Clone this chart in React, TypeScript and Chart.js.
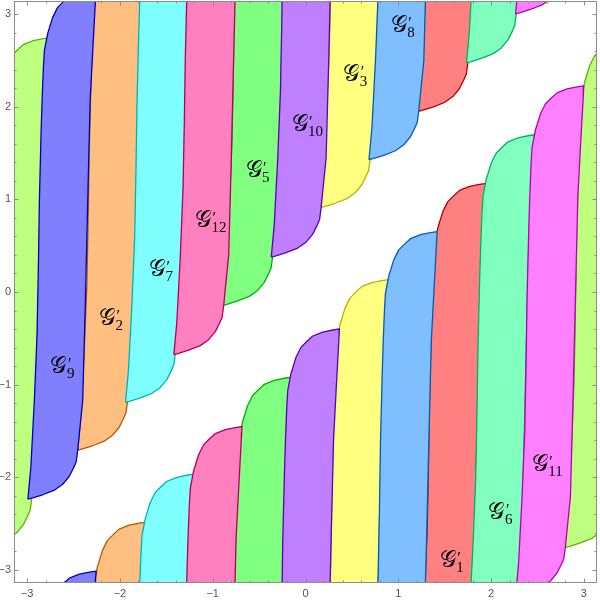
import React, { useEffect, useRef } from "react";
import { Chart, registerables } from "chart.js";

Chart.register(...registerables);

// ---- axes -------------------------------------------------------------
const AXIS_MIN = -Math.PI;
const AXIS_MAX = Math.PI;
const PERIOD = 2 * Math.PI;

const majorTicks = [-3, -2, -1, 0, 1, 2, 3];
const tickLabels = ["−3", "−2", "−1", "0", "1", "2", "3"];
const minorTicks = [
  -2.8, -2.6, -2.4, -2.2, -1.8, -1.6, -1.4, -1.2, -0.8, -0.6, -0.4, -0.2,
  0.2, 0.4, 0.6, 0.8, 1.2, 1.4, 1.6, 1.8, 2.2, 2.4, 2.6, 2.8,
];

// ---- outline of one strip (the G'9 strip) ------------------------------
// left edge upward, round top-left corner, top edge, then right edge
// downward, round bottom-right corner, bottom edge.
const stripX = [
  -2.992, -2.96, -2.922, -2.893, -2.879, -2.868, -2.85, -2.839, -2.825, -2.814,
  -2.779, -2.725, -2.671, -2.609, -2.545, -2.437, -2.329, -2.257, -2.261,
  -2.264, -2.293, -2.321, -2.347, -2.372, -2.401, -2.437, -2.455, -2.472,
  -2.502, -2.545, -2.617, -2.707, -2.833, -2.941,
];
const stripY = [
  -2.237, -1.892, -1.169, -0.447, 0.265, 0.988, 1.711, 2.067, 2.423, 2.606,
  2.79, 2.965, 3.073, 3.135, 3.194, 3.237, 3.259, 3.27, 3.2, 3.146, 2.606,
  2.067, 0.988, -0.091, -1.169, -1.525, -1.709, -1.835, -1.903, -1.989,
  -2.076, -2.14, -2.189, -2.223,
];

// strips from left to right: which G' they are and where they sit
const stripIndex = [4, 9, 2, 7, 12, 5, 10, 3, 8, 1, 6, 11];
const stripOffsetX = [
  -0.496, 0, 0.537, 1.052, 1.573, 2.101, 2.623, 3.152, 3.676, 4.205, 4.727,
  5.256,
];
const stripOffsetY = [
  -0.523, 0, 0.529, 1.046, 1.561, 2.093, 2.614, 3.147, 3.665, 4.186, 4.711,
  5.239,
];

// colours by G' index 1..12
const fillColors = [
  "#ff8080", "#ffbf80", "#ffff80", "#bfff80", "#80ff80", "#80ffbf",
  "#80ffff", "#80bfff", "#8080ff", "#bf80ff", "#ff80ff", "#ff80bf",
];
const edgeColors = [
  "#b30000", "#b35900", "#b3b300", "#5cb300", "#00b300", "#00b35c",
  "#00b3b3", "#005cb3", "#0000b3", "#5c00b3", "#b300b3", "#b3005c",
];

// ---- region labels -----------------------------------------------------
const labelIndex = [9, 2, 7, 12, 5, 10, 3, 8, 1, 6, 11];
const labelX = [
  -2.663, -2.14, -1.601, -1.105, -0.56, -0.064, 0.492, 1.004, 1.533, 2.058,
  2.525,
];
const labelY = [
  -0.813, -0.296, 0.233, 0.762, 1.301, 1.807, 2.347, 2.876, -2.907, -2.388,
  -1.871,
];

function buildDatasets() {
  const sets: any[] = [];
  const shifts = [-1, 0, 1];
  stripIndex.forEach((g, k) => {
    for (const sx of shifts) {
      for (const sy of shifts) {
        const pts = stripX.map((x, i) => ({
          x: x + stripOffsetX[k] + sx * PERIOD,
          y: stripY[i] + stripOffsetY[k] + sy * PERIOD,
        }));
        const minX = Math.min(...pts.map((p) => p.x));
        const maxX = Math.max(...pts.map((p) => p.x));
        const minY = Math.min(...pts.map((p) => p.y));
        const maxY = Math.max(...pts.map((p) => p.y));
        if (maxX < AXIS_MIN || minX > AXIS_MAX || maxY < AXIS_MIN || minY > AXIS_MAX) continue;
        pts.push({ ...pts[0] });
        sets.push({
          label: "G'" + g,
          data: pts,
          order: 13 - g,
          fill: "shape",
          backgroundColor: fillColors[g - 1],
          borderColor: edgeColors[g - 1],
          borderWidth: 1.3,
          borderJoinStyle: "round",
          pointRadius: 0,
          pointHitRadius: 0,
          tension: 0,
          clip: 0,
        });
      }
    }
  });
  return sets;
}

const framePlugin = {
  id: "frameTicks",
  afterDatasetsDraw(chart: any) {
    const { ctx, chartArea } = chart;
    const xs = chart.scales.x;
    const ys = chart.scales.y;
    const { left, right, top, bottom } = chartArea;
    ctx.save();
    // region labels
    ctx.fillStyle = "#000";
    labelIndex.forEach((g, i) => {
      const cx = xs.getPixelForValue(labelX[i]);
      const cy = ys.getPixelForValue(labelY[i]);
      ctx.font = '23px "DejaVu Serif", serif';
      ctx.textAlign = "center";
      ctx.textBaseline = "middle";
      const w = ctx.measureText("𝒢").width;
      ctx.fillText("𝒢", cx, cy);
      const rx = cx + Math.min(w / 2, 8);
      ctx.textAlign = "left";
      ctx.textBaseline = "alphabetic";
      ctx.font = '16px "Liberation Serif", serif';
      ctx.fillText("′", rx + 1.5, cy + 2);
      ctx.font = '15px "Liberation Serif", serif';
      ctx.fillText(String(g), rx + 0.5, cy + 11);
    });
    // frame
    ctx.strokeStyle = "#8c8c8c";
    ctx.lineWidth = 1;
    ctx.strokeRect(left + 0.5, top + 0.5, right - left - 1, bottom - top - 1);
    const tick = (v: number, len: number) => {
      const px = Math.round(xs.getPixelForValue(v)) + 0.5;
      const py = Math.round(ys.getPixelForValue(v)) + 0.5;
      ctx.beginPath();
      ctx.moveTo(px, bottom);
      ctx.lineTo(px, bottom - len);
      ctx.moveTo(px, top);
      ctx.lineTo(px, top + len);
      ctx.moveTo(left, py);
      ctx.lineTo(left + len, py);
      ctx.moveTo(right, py);
      ctx.lineTo(right - len, py);
      ctx.stroke();
    };
    majorTicks.forEach((v) => tick(v, 4.5));
    minorTicks.forEach((v) => tick(v, 2.5));
    // tick labels
    ctx.fillStyle = "#555";
    ctx.font = '11px "Liberation Sans", Arial, sans-serif';
    ctx.textAlign = "center";
    ctx.textBaseline = "top";
    majorTicks.forEach((v, i) => {
      ctx.fillText(tickLabels[i], xs.getPixelForValue(v), bottom + 5);
    });
    ctx.textAlign = "right";
    ctx.textBaseline = "middle";
    majorTicks.forEach((v, i) => {
      ctx.fillText(tickLabels[i], left - 3, ys.getPixelForValue(v));
    });
    ctx.restore();
  },
};

export default function App() {
  const ref = useRef<HTMLCanvasElement | null>(null);
  useEffect(() => {
    if (!ref.current) return;
    const chart = new Chart(ref.current, {
      type: "line",
      data: { datasets: buildDatasets() },
      options: {
        responsive: false,
        animation: false,
        events: [],
        layout: { padding: { left: 14, top: 1, right: 3, bottom: 18 } },
        plugins: { legend: { display: false }, tooltip: { enabled: false } },
        scales: {
          x: { type: "linear", min: AXIS_MIN, max: AXIS_MAX, display: false },
          y: { type: "linear", min: AXIS_MIN, max: AXIS_MAX, display: false },
        },
      },
      plugins: [framePlugin],
    });
    return () => chart.destroy();
  }, []);
  return (
    <div style={{ position: "absolute", left: 0, top: 0, width: 600, height: 601, background: "#fff" }}>
      <canvas ref={ref} width={600} height={601} style={{ width: 600, height: 601 }} />
    </div>
  );
}
